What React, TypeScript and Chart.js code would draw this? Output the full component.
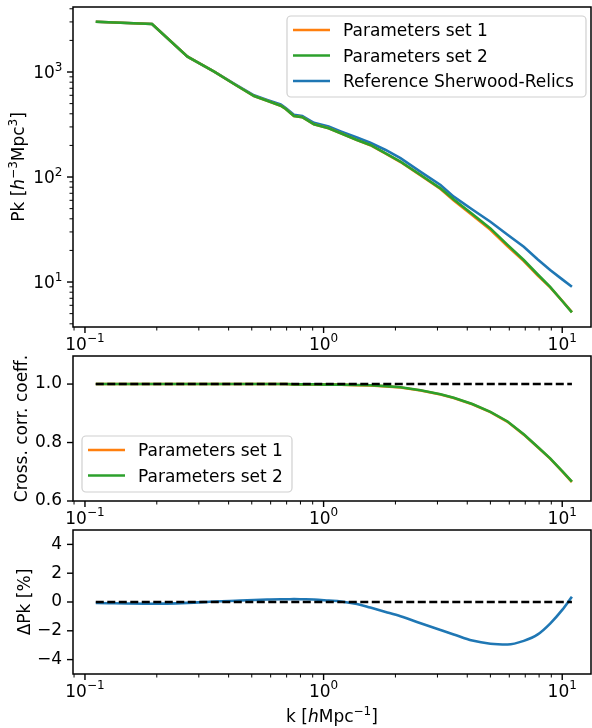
import React, { useEffect, useRef } from "react";
import { Chart, registerables } from "chart.js";

Chart.register(...registerables);

const FONT = "'DejaVu Sans', 'Noto Sans', sans-serif";
const FS = 17;
const C_SET1 = "#ff7f0e";
const C_SET2 = "#2ca02c";
const C_REF = "#1f77b4";

// ---------------- data ----------------
const kValues = [0.111, 0.191, 0.269, 0.348, 0.428, 0.511, 0.58, 0.661, 0.694, 0.751, 0.814, 0.911, 1.05, 1.18, 1.38, 1.57, 1.82, 2.1, 2.55, 3.09, 3.51, 4.2, 5.0, 5.9, 6.9, 7.9, 8.9, 10.0, 10.98];

const pkSet1 = [3013, 2866, 1399, 1007, 752, 591, 532, 478, 445, 381, 371, 318, 291, 261, 224.5, 201, 167, 139, 103.5, 77, 59.8, 43.3, 31.5, 21.9, 15.8, 11.55, 8.9, 6.6, 5.16];
const pkSet2 = [3013, 2866, 1399, 1007, 752, 591, 532, 478, 445, 381, 371, 318, 291, 261, 225, 202, 168, 140, 104.5, 78, 61, 44.4, 32.4, 22.6, 16.2, 11.8, 9.0, 6.6, 5.14];
const pkReference = [3013, 2866, 1400, 1010, 760, 600, 542, 490, 455, 392, 382, 328, 302, 272, 238, 212, 181, 151, 112, 84, 65, 49, 37.5, 28.2, 21.7, 16.4, 13.0, 10.6, 9.0];

const ccSet1 = [1.0, 1.0, 1.0, 1.0, 1.0, 1.0, 1.0, 1.0, 1.0, 0.999, 0.999, 0.999, 0.998, 0.998, 0.996, 0.995, 0.992, 0.988, 0.978, 0.964, 0.952, 0.931, 0.904, 0.871, 0.827, 0.784, 0.745, 0.701, 0.665];
const ccSet2 = [1.0, 1.0, 1.0, 1.0, 1.0, 1.0, 1.0, 1.0, 1.0, 0.999, 0.999, 0.999, 0.998, 0.998, 0.997, 0.996, 0.993, 0.989, 0.979, 0.965, 0.953, 0.932, 0.905, 0.872, 0.828, 0.785, 0.746, 0.702, 0.666];
const ccUnity = 1.0;

const deltaPk = [-0.07, -0.12, -0.06, 0.03, 0.09, 0.14, 0.17, 0.19, 0.19, 0.2, 0.19, 0.17, 0.1, 0.04, -0.14, -0.39, -0.69, -0.99, -1.47, -1.94, -2.25, -2.68, -2.9, -2.95, -2.7, -2.25, -1.5, -0.55, 0.37];
const deltaZero = 0;

const xTickValues = [0.1, 1, 10];
const xTickExponents = ["\u22121", "0", "1"];
const pkTickValues = [10, 100, 1000];
const pkTickExponents = ["1", "2", "3"];
const ccTickValues = [0.6, 0.8, 1.0];
const ccTickLabels = ["0.6", "0.8", "1.0"];
const dpTickValues = [-4, -2, 0, 2, 4];
const dpTickLabels = ["\u22124", "\u22122", "0", "2", "4"];

const X_MIN = 0.0891;
const X_MAX = 13.2;

// ---------------- helpers ----------------
type Seg = { t: string; sup?: boolean; it?: boolean };

function drawRich(
  ctx: CanvasRenderingContext2D,
  segs: Seg[],
  x: number,
  y: number,
  vertical: boolean,
  size: number,
  align: "center" | "right" = "center"
) {
  ctx.save();
  ctx.translate(x, y);
  if (vertical) ctx.rotate(-Math.PI / 2);
  const fontFor = (s: Seg) => `${s.it ? "italic " : ""}${s.sup ? Math.round(size * 0.7) : size}px ${FONT}`;
  let total = 0;
  const widths: number[] = [];
  for (const s of segs) {
    ctx.font = fontFor(s);
    const w = ctx.measureText(s.t).width;
    widths.push(w);
    total += w;
  }
  let cx = align === "right" ? -total : -total / 2;
  ctx.textAlign = "left";
  ctx.textBaseline = "alphabetic";
  ctx.fillStyle = "#000";
  segs.forEach((s, i) => {
    ctx.font = fontFor(s);
    ctx.fillText(s.t, cx, s.sup ? -size * 0.42 : 0);
    cx += widths[i];
  });
  ctx.restore();
}

function labelFor(values: number[], labels: string[]) {
  return (v: any) => {
    const n = Number(v);
    const i = values.findIndex((t) => Math.abs(t - n) <= 1e-6 * Math.max(1, Math.abs(t)));
    return i >= 0 ? labels[i] : "";
  };
}

function series(label: string, ys: number[], color: string, order: number, extra: any = {}) {
  return {
    label,
    data: kValues.map((k, i) => ({ x: k, y: ys[i] })),
    borderColor: color,
    backgroundColor: color,
    borderWidth: 2.6,
    pointRadius: 0,
    fill: false,
    tension: 0,
    order,
    ...extra,
  };
}

function levelLine(level: number) {
  return {
    label: "",
    data: [
      { x: kValues[0], y: level },
      { x: kValues[kValues.length - 1], y: level },
    ],
    borderColor: "#000",
    borderWidth: 2.4,
    borderDash: [8, 3.5],
    pointRadius: 0,
    fill: false,
    order: -1,
  };
}

interface LegendSpec {
  anchor: "topright" | "bottomleft";
  w: number;
  h: number;
}

interface DecorSpec {
  yLog: boolean;
  yTitle: Seg[];
  yTitleX: number;
  xTitle?: Seg[];
  xTitleDy?: number;
  legend?: LegendSpec;
}

function decorPlugin(spec: DecorSpec) {
  return {
    id: "decor",
    afterDraw(chart: any) {
      const ctx: CanvasRenderingContext2D = chart.ctx;
      const a = chart.chartArea;
      const xs = chart.scales.x;
      const ys = chart.scales.y;
      ctx.save();
      ctx.strokeStyle = "#000";
      // x ticks (major + minor)
      for (let e = -3; e <= 3; e++) {
        for (let m = 1; m <= 9; m++) {
          const v = m * Math.pow(10, e);
          if (v < xs.min || v > xs.max) continue;
          const p = xs.getPixelForValue(v);
          const len = m === 1 ? 6 : 3.5;
          ctx.lineWidth = m === 1 ? 1.4 : 1.0;
          ctx.beginPath();
          ctx.moveTo(p, a.bottom);
          ctx.lineTo(p, a.bottom + len);
          ctx.stroke();
        }
      }
      // x tick labels (10^n)
      xTickValues.forEach((v, i) => {
        const p = xs.getPixelForValue(v);
        drawRich(ctx, [{ t: "10" }, { t: xTickExponents[i], sup: true }], p, a.bottom + 22.5, false, FS);
      });
      // y ticks
      if (spec.yLog) {
        for (let e = -1; e <= 5; e++) {
          for (let m = 1; m <= 9; m++) {
            const v = m * Math.pow(10, e);
            if (v < ys.min || v > ys.max) continue;
            const p = ys.getPixelForValue(v);
            const len = m === 1 ? 6 : 3.5;
            ctx.lineWidth = m === 1 ? 1.4 : 1.0;
            ctx.beginPath();
            ctx.moveTo(a.left, p);
            ctx.lineTo(a.left - len, p);
            ctx.stroke();
          }
        }
        pkTickValues.forEach((v, i) => {
          const p = ys.getPixelForValue(v);
          drawRich(ctx, [{ t: "10" }, { t: pkTickExponents[i], sup: true }], a.left - 10.5, p + 6, false, FS, "right");
        });
      } else {
        for (const t of ys.ticks) {
          const p = ys.getPixelForValue(t.value);
          ctx.lineWidth = 1.4;
          ctx.beginPath();
          ctx.moveTo(a.left, p);
          ctx.lineTo(a.left - 6, p);
          ctx.stroke();
        }
      }
      // spines
      ctx.lineWidth = 1.5;
      ctx.strokeRect(a.left, a.top, a.right - a.left, a.bottom - a.top);

      // titles
      drawRich(ctx, spec.yTitle, spec.yTitleX, (a.top + a.bottom) / 2, true, FS);
      if (spec.xTitle) {
        drawRich(ctx, spec.xTitle, (a.left + a.right) / 2, a.bottom + (spec.xTitleDy || 48), false, FS);
      }

      // legend
      if (spec.legend) {
        const L = spec.legend;
        const bx = L.anchor === "topright" ? a.right - 5 - L.w : a.left + 9;
        const by = L.anchor === "topright" ? a.top + 9 : a.bottom - 9 - L.h;
        ctx.beginPath();
        const r = 4;
        ctx.moveTo(bx + r, by);
        ctx.arcTo(bx + L.w, by, bx + L.w, by + L.h, r);
        ctx.arcTo(bx + L.w, by + L.h, bx, by + L.h, r);
        ctx.arcTo(bx, by + L.h, bx, by, r);
        ctx.arcTo(bx, by, bx + L.w, by, r);
        ctx.closePath();
        ctx.fillStyle = "rgba(255,255,255,0.8)";
        ctx.fill();
        ctx.strokeStyle = "#d0d0d0";
        ctx.lineWidth = 1.2;
        ctx.stroke();
        const items = chart.data.datasets.filter((d: any) => d.label);
        items.forEach((d: any, i: number) => {
          const cy = by + 14 + i * 25.5;
          ctx.strokeStyle = d.borderColor;
          ctx.lineWidth = 2.6;
          ctx.beginPath();
          ctx.moveTo(bx + 6, cy);
          ctx.lineTo(bx + 43, cy);
          ctx.stroke();
          ctx.fillStyle = "#000";
          ctx.font = `${FS}px ${FONT}`;
          ctx.textAlign = "left";
          ctx.textBaseline = "alphabetic";
          ctx.fillText(d.label, bx + 56, cy + 6.2);
        });
      }
      ctx.restore();
    },
  };
}

function zeroPad(s: any) {
  s.paddingTop = 0;
  s.paddingBottom = 0;
  s.paddingLeft = 0;
  s.paddingRight = 0;
}

function buildOptions(p: {
  padTop: number;
  xHeight: number;
  yType: "logarithmic" | "linear";
  yMin: number;
  yMax: number;
  yTicks: number[];
  yLabels: string[] | null;
}) {
  return {
    animation: false,
    responsive: false,
    maintainAspectRatio: false,
    devicePixelRatio: 1,
    layout: { padding: { left: 0, right: 1, top: p.padTop, bottom: 0 } },
    plugins: { legend: { display: false }, tooltip: { enabled: false }, title: { display: false } },
    scales: {
      x: {
        type: "logarithmic",
        min: X_MIN,
        max: X_MAX,
        grid: { display: false, drawTicks: false },
        border: { display: false },
        ticks: { display: false },
        afterBuildTicks: (s: any) => {
          s.ticks = xTickValues.map((v) => ({ value: v }));
        },
        afterFit: (s: any) => {
          s.height = p.xHeight;
          zeroPad(s);
        },
      },
      y: {
        type: p.yType,
        min: p.yMin,
        max: p.yMax,
        grid: { display: false, drawTicks: false },
        border: { display: false },
        ticks: p.yLabels
          ? {
              padding: 11,
              autoSkip: false,
              color: "#000",
              font: { family: FONT, size: FS },
              callback: labelFor(p.yTicks, p.yLabels),
            }
          : { display: false },
        afterBuildTicks: (s: any) => {
          s.ticks = p.yTicks.map((v) => ({ value: v }));
        },
        afterFit: (s: any) => {
          s.width = 73;
          zeroPad(s);
        },
      },
    },
  };
}

export default function App() {
  const c1 = useRef<HTMLCanvasElement>(null);
  const c2 = useRef<HTMLCanvasElement>(null);
  const c3 = useRef<HTMLCanvasElement>(null);

  useEffect(() => {
    Chart.defaults.font.family = FONT;
    Chart.defaults.color = "#000";

    const chart1 = new Chart(c1.current as HTMLCanvasElement, {
      type: "line",
      data: {
        datasets: [
          series("Parameters set 1", pkSet1, C_SET1, 1),
          series("Parameters set 2", pkSet2, C_SET2, 0),
          series("Reference Sherwood-Relics", pkReference, C_REF, 2),
        ],
      },
      options: buildOptions({
        padTop: 7,
        xHeight: 29,
        yType: "logarithmic",
        yMin: 3.73,
        yMax: 4160,
        yTicks: pkTickValues,
        yLabels: null,
      }) as any,
      plugins: [
        decorPlugin({
          yLog: true,
          yTitle: [{ t: "Pk [" }, { t: "h", it: true }, { t: "\u22123", sup: true }, { t: "Mpc" }, { t: "3", sup: true }, { t: "]" }],
          yTitleX: 24,
          legend: { anchor: "topright", w: 299, h: 81 },
        }),
      ],
    });

    const chart2 = new Chart(c2.current as HTMLCanvasElement, {
      type: "line",
      data: {
        datasets: [
          series("Parameters set 1", ccSet1, C_SET1, 1),
          series("Parameters set 2", ccSet2, C_SET2, 0),
          levelLine(ccUnity),
        ],
      },
      options: buildOptions({
        padTop: 8,
        xHeight: 23,
        yType: "linear",
        yMin: 0.6,
        yMax: 1.096,
        yTicks: ccTickValues,
        yLabels: ccTickLabels,
      }) as any,
      plugins: [
        decorPlugin({
          yLog: false,
          yTitle: [{ t: "Cross. corr. coeff." }],
          yTitleX: 26.5,
          legend: { anchor: "bottomleft", w: 210, h: 56 },
        }),
      ],
    });

    const chart3 = new Chart(c3.current as HTMLCanvasElement, {
      type: "line",
      data: {
        datasets: [
          series("", deltaPk, C_REF, 1, { cubicInterpolationMode: "monotone" }),
          levelLine(deltaZero),
        ],
      },
      options: buildOptions({
        padTop: 6,
        xHeight: 54,
        yType: "linear",
        yMin: -5,
        yMax: 5,
        yTicks: dpTickValues,
        yLabels: dpTickLabels,
      }) as any,
      plugins: [
        decorPlugin({
          yLog: false,
          yTitle: [{ t: "\u0394Pk [%]" }],
          yTitleX: 30,
          xTitle: [{ t: "k [" }, { t: "h", it: true }, { t: "Mpc" }, { t: "\u22121", sup: true }, { t: "]" }],
          xTitleDy: 48,
        }),
      ],
    });

    return () => {
      chart1.destroy();
      chart2.destroy();
      chart3.destroy();
    };
  }, []);

  const canvasStyle = (top: number, h: number): React.CSSProperties => ({
    position: "absolute",
    left: 0,
    top,
    width: 592,
    height: h,
    display: "block",
  });

  return (
    <div style={{ position: "absolute", left: 0, top: 0, width: 592, height: 728, background: "#fff" }}>
      <canvas ref={c1} width={592} height={356} style={canvasStyle(0, 356)} />
      <canvas ref={c2} width={592} height={176} style={canvasStyle(348, 176)} />
      <canvas ref={c3} width={592} height={204} style={canvasStyle(524, 204)} />
    </div>
  );
}
